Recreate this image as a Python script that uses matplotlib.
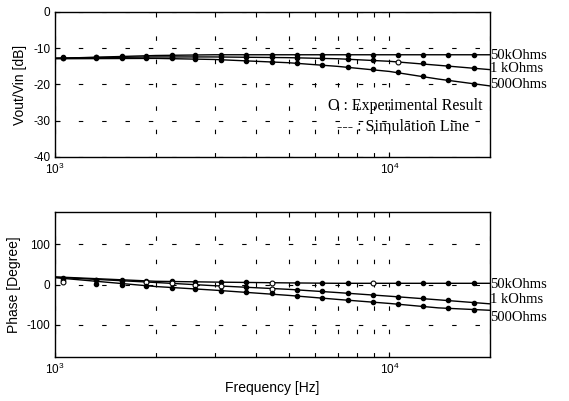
import numpy as np
import matplotlib.pyplot as plt
from matplotlib.transforms import blended_transform_factory

# measurement frequencies [Hz]
freq = [1053, 1329, 1589, 1874, 2242, 2623, 3139, 3727, 4463, 5297,
        6293, 7529, 8930, 10610, 12600, 14960, 17860]

# gain [dB]
gain_50k = [-12.5, -12.3, -12.2, -12.1, -12.0, -11.9, -11.8, -11.8, -11.8, -11.8,
            -11.8, -11.8, -11.8, -11.8, -11.8, -11.8, -11.8]
gain_1k = [-12.6, -12.5, -12.4, -12.4, -12.4, -12.4, -12.4, -12.4, -12.5, -12.6,
           -12.8, -13.0, -13.3, -13.7, -14.2, -14.9, -15.5]
gain_500 = [-12.8, -12.7, -12.7, -12.7, -12.8, -12.9, -13.2, -13.5, -13.8, -14.1,
            -14.5, -15.1, -15.7, -16.6, -17.7, -18.8, -19.9]

# phase [deg]
phase_50k = [15, 12, 10, 9, 8, 7, 6, 5, 4, 4, 3, 3, 3, 3, 3, 3, 3]
phase_1k = [12, 10, 8, 7, 4, 0, -4, -7, -10, -13, -16, -21, -26, -30, -34, -39, -45]
phase_500 = [7, 1, -2, -4, -8, -11, -15, -19, -22, -29, -34, -39, -43, -49, -53, -59, -63]

# simulation lines (to the edges of the plot)
sim_freq = [1000, 2000, 3000, 5000, 7000, 10000, 14000, 20000]
sim_gain_50k = [-12.8, -12.0, -11.8, -11.8, -11.8, -11.8, -11.8, -11.8]
sim_gain_1k = [-12.7, -12.4, -12.4, -12.6, -12.9, -13.6, -14.7, -15.9]
sim_gain_500 = [-12.9, -12.8, -13.1, -14.0, -15.0, -16.4, -18.5, -20.4]
sim_phase_50k = [19, 8, 6, 4, 3, 3, 3, 3]
sim_phase_1k = [18, 5, -3, -12, -20, -29, -38, -48]
sim_phase_500 = [17, -5, -14, -27, -37, -47, -58, -64]

labels = ['50kOhms', '1 kOhms', '500Ohms']
gain_label_y = [-11.9, -15.6, -20.0]
phase_label_y = [0, -38, -82]

# which measured points are drawn as open circles
open_gain = [[], [13], []]
open_phase = [[8, 12], [3, 4, 5, 6, 8], [0]]

plt.rcParams['font.family'] = ['Liberation Sans', 'DejaVu Sans']
plt.rcParams['axes.unicode_minus'] = False

fig = plt.figure(figsize=(5.69, 4.01), dpi=100)
ax1 = fig.add_axes([0.0967, 0.6085, 0.7645, 0.3616])
ax2 = fig.add_axes([0.0967, 0.1097, 0.7645, 0.3616])

grid_style = dict(color='black', linestyle=(0, (4, 17)), linewidth=0.8)

for ax in (ax1, ax2):
    ax.set_xscale('log')
    ax.set_xlim(1000, 20000)
    ax.grid(True, which='both', **grid_style)
    ax.tick_params(which='both', direction='in', labelsize=8.5)
    ax.tick_params(which='minor', length=2)
    for s in ax.spines.values():
        s.set_linewidth(1.0)


def draw(ax, sim_series, meas_series, open_sets):
    for sv, mv, opn in zip(sim_series, meas_series, open_sets):
        ax.plot(sim_freq, sv, color='black', linewidth=1.0)
        filled = [i for i in range(len(freq)) if i not in opn]
        ax.plot([freq[i] for i in filled], [mv[i] for i in filled], 'o',
                color='black', markersize=3)
        if opn:
            ax.plot([freq[i] for i in opn], [mv[i] for i in opn], 'o',
                    mfc='white', mec='black', mew=0.8, markersize=3.5)


draw(ax1, [sim_gain_50k, sim_gain_1k, sim_gain_500],
     [gain_50k, gain_1k, gain_500], open_gain)
ax1.set_ylim(-40, 0)
ax1.set_yticks([0, -10, -20, -30, -40])
ax1.set_ylabel('Vout/Vin [dB]', fontsize=10)

draw(ax2, [sim_phase_50k, sim_phase_1k, sim_phase_500],
     [phase_50k, phase_1k, phase_500], open_phase)
ax2.set_ylim(-180, 180)
ax2.set_yticks([-100, 0, 100])
ax2.set_ylabel('Phase [Degree]', fontsize=10)
ax2.set_xlabel('Frequency [Hz]', fontsize=10, labelpad=3)

serif = ['Liberation Serif', 'DejaVu Serif']
tr1 = blended_transform_factory(ax1.transAxes, ax1.transData)
tr2 = blended_transform_factory(ax2.transAxes, ax2.transData)
for lab, y1, y2 in zip(labels, gain_label_y, phase_label_y):
    ax1.text(1.0, y1, lab, transform=tr1, family=serif, fontsize=10.5, va='center', ha='left')
    ax2.text(1.0, y2, lab, transform=tr2, family=serif, fontsize=10.5, va='center', ha='left')

ax1.text(0.982, 0.352, 'O : Experimental Result', transform=ax1.transAxes,
         family=serif, fontsize=11.5, ha='right', va='center')
ax1.text(0.953, 0.207, '--- : Simulation Line', transform=ax1.transAxes,
         family=serif, fontsize=11.5, ha='right', va='center')

fig.savefig('out.png', dpi=100)
